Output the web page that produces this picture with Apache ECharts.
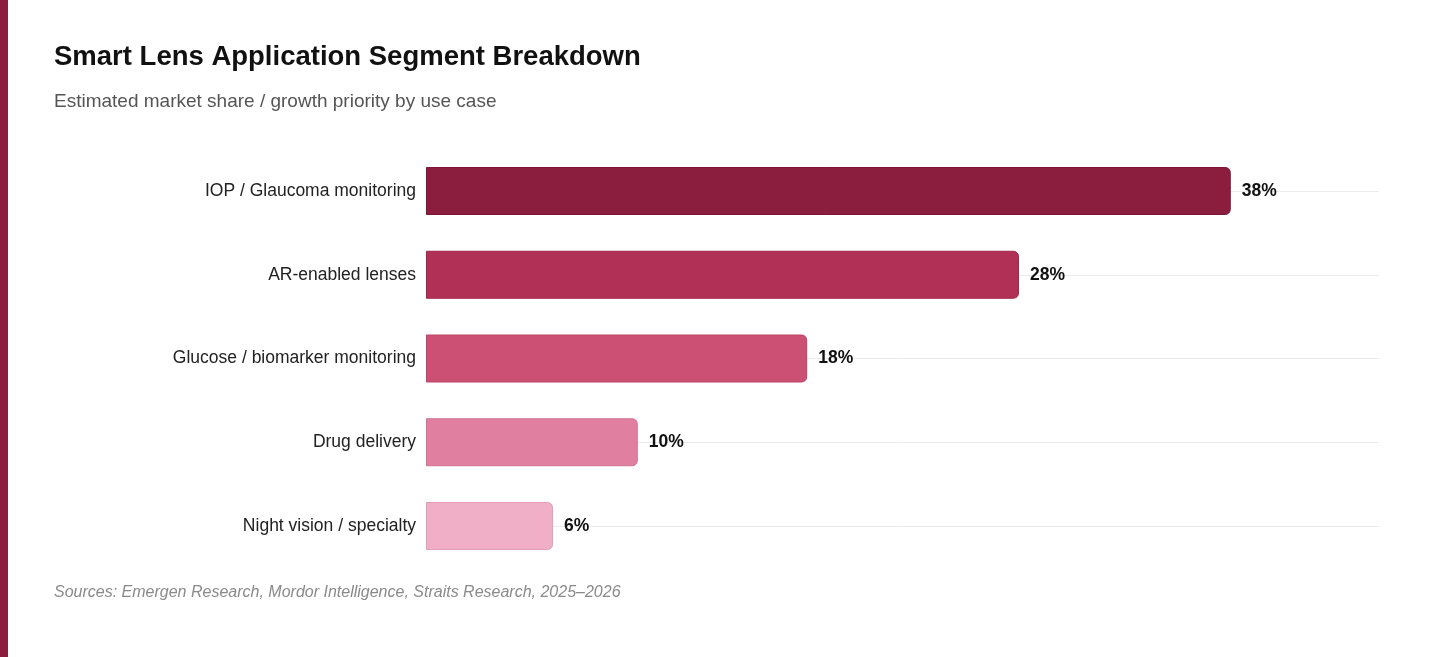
<!DOCTYPE html>
<html>
<head>
<meta charset="utf-8">
<script src="https://cdn.jsdelivr.net/npm/echarts@6/dist/echarts.min.js"></script>
<style>
  html, body { margin: 0; padding: 0; background: #fff; }
  #chart { width: 1456px; height: 657px; }
</style>
</head>
<body>
<div id="chart"></div>
<script>
// segments, top to bottom
const categories = [
    'IOP / Glaucoma monitoring',
    'AR-enabled lenses',
    'Glucose / biomarker monitoring',
    'Drug delivery',
    'Night vision / specialty'
];
const shares = [38, 28, 18, 10, 6];
const barColors = ['#8b1e3f', '#b03056', '#cc5073', '#e07f9f', '#f0afc6'];
const borderColors = ['#7a1535', '#a0244a', '#bd4266', '#d2708f', '#e59db7'];

const chart = echarts.init(document.getElementById('chart'));

const option = {
    animation: false,
    textStyle: { fontFamily: 'Liberation Sans, Arial, sans-serif' },
    graphic: [
        { type: 'rect', left: 0, top: 0, shape: { width: 8, height: 657 }, style: { fill: '#8b1e3f' } }
    ],
    title: [
        {
            text: 'Smart Lens Application Segment Breakdown',
            left: 54, top: 43, padding: 0,
            textStyle: { fontSize: 27.5, fontWeight: 'bold', color: '#111' }
        },
        {
            text: 'Estimated market share / growth priority by use case',
            left: 54, top: 92, padding: 0,
            textStyle: { fontSize: 19, fontWeight: 'normal', color: '#555' }
        },
        {
            text: 'Sources: Emergen Research, Mordor Intelligence, Straits Research, 2025–2026',
            left: 54, top: 585, padding: 0,
            textStyle: { fontSize: 16, fontWeight: 'normal', fontStyle: 'italic', color: '#8a8a8a' }
        }
    ],
    grid: { left: 426, right: 77, top: 191, bottom: 131 },
    xAxis: {
        type: 'value',
        min: 0,
        max: 45,
        show: false,
        splitLine: { show: false }
    },
    yAxis: {
        type: 'category',
        data: categories,
        inverse: true,
        boundaryGap: false,
        axisLine: { show: false },
        axisTick: { show: false },
        axisLabel: { fontSize: 17.5, color: '#222', margin: 10 },
        splitLine: { show: true, lineStyle: { color: '#ececec', width: 1 } }
    },
    series: [
        {
            type: 'bar',
            clip: false,
            barWidth: 48,
            data: shares.map((v, i) => ({
                value: v,
                itemStyle: {
                    color: barColors[i],
                    borderColor: borderColors[i],
                    borderWidth: 1,
                    borderRadius: [0, 5, 5, 0]
                }
            })),
            label: {
                show: true,
                position: 'right',
                distance: 11,
                fontSize: 17.5,
                fontWeight: 'bold',
                color: '#111',
                formatter: p => p.value + '%'
            }
        }
    ]
};

chart.setOption(option);
</script>
</body>
</html>
